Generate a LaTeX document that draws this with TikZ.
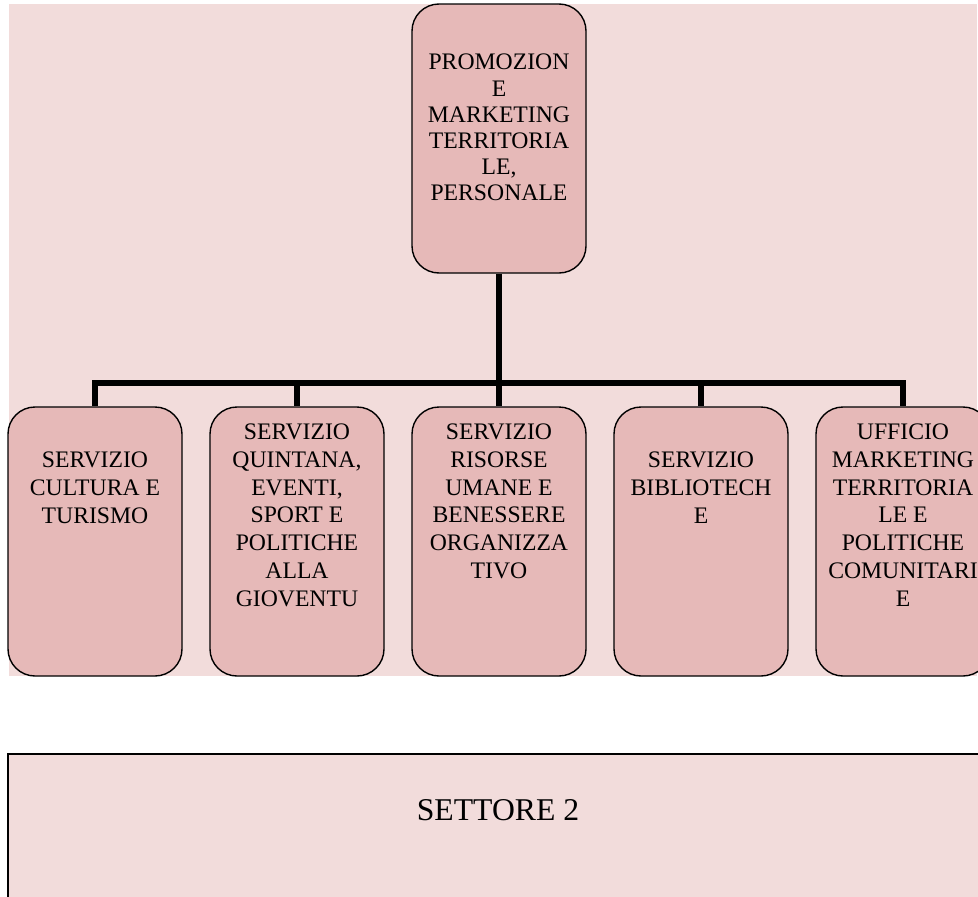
\documentclass[tikz,border=0pt]{standalone}
\usepackage{fontspec}
\setmainfont{Liberation Serif}
\definecolor{bgpink}{HTML}{F2DCDB}
\definecolor{boxpink}{HTML}{E6B9B8}
\tikzset{
  orgbox/.style={draw=black, line width=1.4pt, fill=boxpink, rounded corners=27pt,
    minimum width=174pt, minimum height=269pt, inner sep=0pt},
  boxtext/.style={anchor=north, align=center, inner sep=0pt,
    font=\fontsize{23.7}{27.7}\selectfont},
  toptext/.style={boxtext, font=\fontsize{23.7}{26.2}\selectfont},
  conn/.style={draw=black, line width=6pt},
}
\begin{document}
\begin{tikzpicture}[x=1pt, y=-1pt]
\useasboundingbox (0,0) rectangle (978,897);
\fill[white] (0,0) rectangle (978,897);
% background panel
\fill[bgpink] (9,4) rectangle (977,676);

% boxes
\node[orgbox] (top) at (499,138.5) {};
\node[orgbox] (c1) at (95,541.5) {};
\node[orgbox] (c2) at (297,541.5) {};
\node[orgbox] (c3) at (499,541.5) {};
\node[orgbox] (c4) at (701,541.5) {};
\node[orgbox] (c5) at (903,541.5) {};

% connectors
\coordinate (bus) at (499,383);
\draw[conn] (top.south) -- (bus);
\draw[conn] (bus) -| (c1.north);
\draw[conn] (bus) -| (c2.north);
\draw[conn] (bus) -- (c3.north);
\draw[conn] (bus) -| (c4.north);
\draw[conn] (bus) -| (c5.north);

% texts
\node[toptext] (ttop) at (499,54) {PROMOZION\\E\\MARKETING\\TERRITORIA\\LE,\\PERSONALE};
\node[boxtext] (t1) at (95,452) {SERVIZIO\\CULTURA E\\TURISMO};
\node[boxtext] (t2) at (297,424) {SERVIZIO\\QUINTANA,\\EVENTI,\\SPORT E\\POLITICHE\\ALLA\\GIOVENTU};
\node[boxtext] (t3) at (499,424) {SERVIZIO\\RISORSE\\UMANE E\\BENESSERE\\ORGANIZZA\\TIVO};
\node[boxtext] (t4) at (701,452) {SERVIZIO\\BIBLIOTECH\\E};
\node[boxtext] (t5) at (903,424) {UFFICIO\\MARKETING\\TERRITORIA\\LE E\\POLITICHE\\COMUNITARI\\E};

% bottom sector box
\node[draw=black, line width=2.4pt, fill=bgpink, minimum width=983pt, minimum height=210pt,
  inner sep=0pt, anchor=north west] (s2) at (7,753) {};
\node[font=\fontsize{31.7}{36}\selectfont, inner sep=0pt] (s2t) at (498,810) {SETTORE 2};
\end{tikzpicture}
\end{document}
